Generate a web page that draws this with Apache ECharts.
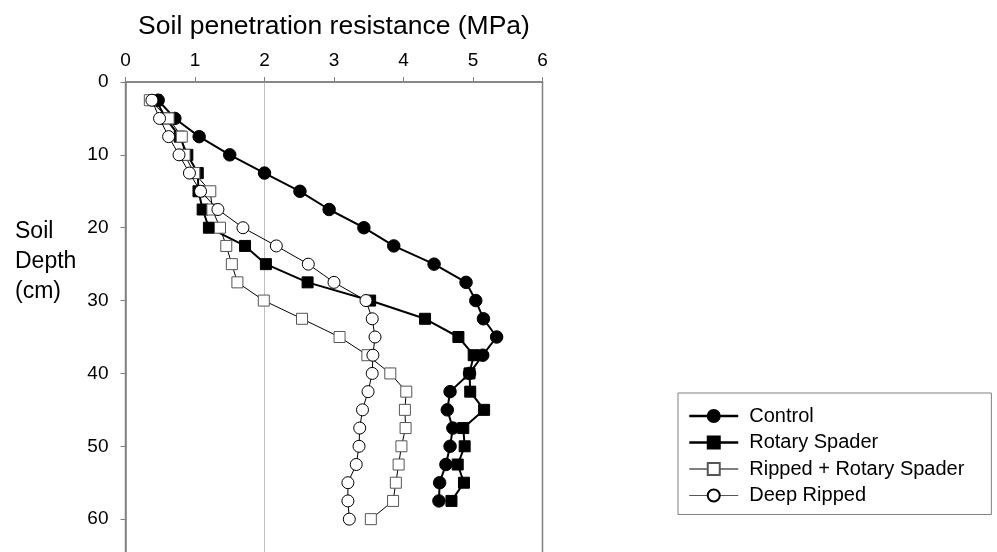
<!DOCTYPE html>
<html>
<head>
<meta charset="utf-8">
<script src="https://cdn.jsdelivr.net/npm/echarts@6/dist/echarts.min.js"></script>
<style>html,body{margin:0;padding:0;background:#fff;}#c{width:997px;height:552px;}</style>
</head>
<body>
<div id="c"></div>
<script>
// Depths (cm) at which resistance was measured
var depths = [2.5,5,7.5,10,12.5,15,17.5,20,22.5,25,27.5,30,32.5,35,37.5,40,42.5,45,47.5,50,52.5,55,57.5,60];
var seriesNames = ['Control','Rotary Spader','Ripped + Rotary Spader','Deep Ripped'];
// Soil penetration resistance (MPa)
var control = [0.47,0.71,1.06,1.50,2.00,2.51,2.93,3.43,3.86,4.44,4.90,5.04,5.15,5.34,5.14,4.95,4.67,4.63,4.71,4.67,4.61,4.52,4.51];
var rotarySpader = [0.44,0.58,0.78,0.89,1.04,1.05,1.11,1.20,1.72,2.02,2.62,3.52,4.31,4.79,5.01,4.95,4.96,5.16,4.86,4.88,4.78,4.87,4.69];
var rippedRotary = [0.35,0.62,0.81,0.85,0.99,1.22,1.25,1.36,1.45,1.53,1.61,1.99,2.54,3.08,3.48,3.81,4.04,4.02,4.03,3.97,3.93,3.89,3.85,3.53];
var deepRipped = [0.38,0.49,0.62,0.77,0.92,1.08,1.33,1.69,2.17,2.63,3.00,3.46,3.55,3.59,3.56,3.55,3.49,3.41,3.37,3.36,3.32,3.20,3.20,3.22];
var xTicks = [0,1,2,3,4,5,6];
var yTicks = [0,10,20,30,40,50,60,70];

function pairs(vals){ return vals.map(function(v,i){ return [v, depths[i]]; }); }

var FONT = '"Liberation Sans", Arial, sans-serif';
var chart = echarts.init(document.getElementById('c'), null, {renderer:'canvas'});
chart.setOption({
  animation:false,
  backgroundColor:'#fff',
  grid:{left:125.5, top:82, width:417, height:510, show:true, borderColor:'#808080', borderWidth:1.5,
        backgroundColor:'transparent', containLabel:false, outerBoundsMode:'none'},
  graphic:[
    {type:'text', x:15, y:217, style:{text:'Soil\nDepth\n(cm)', font:'23px '+FONT, fill:'#000', lineHeight:30, verticalAlign:'top'}},
    {type:'text', x:334, y:27, style:{text:'Soil penetration resistance (MPa)', font:'26.5px '+FONT, fill:'#000', align:'center', verticalAlign:'middle'}}
  ],
  xAxis:{
    type:'value', position:'top', min:xTicks[0], max:xTicks[xTicks.length-1], interval:1,
    axisLine:{show:true, lineStyle:{color:'#808080', width:1.5}},
    axisTick:{show:true, inside:false, length:5, lineStyle:{color:'#808080'}},
    axisLabel:{color:'#000', fontSize:19, fontFamily:FONT, margin:12},
    splitLine:{show:false}
  },
  yAxis:{
    type:'value', inverse:true, min:yTicks[0], max:yTicks[yTicks.length-1], interval:10,
    axisLine:{show:true, onZero:false, lineStyle:{color:'#808080', width:1.5}},
    axisTick:{show:true, inside:false, length:5, lineStyle:{color:'#808080'}},
    axisLabel:{color:'#000', fontSize:19, fontFamily:FONT, margin:17},
    splitLine:{show:false}
  },
  legend:{
    orient:'vertical', left:678, top:393,
    padding:[13,27,9,10], itemGap:6.5, itemWidth:49, itemHeight:15,
    borderColor:'#808080', borderWidth:1, backgroundColor:'#fff',
    textStyle:{color:'#000', fontSize:20, fontFamily:FONT, padding:[0,0,0,6]},
    data:[
      {name:seriesNames[0], lineStyle:{width:2.5, color:'#000'}},
      {name:seriesNames[1], lineStyle:{width:2.5, color:'#000'}},
      {name:seriesNames[2], lineStyle:{width:1, color:'#000'}},
      {name:seriesNames[3], lineStyle:{width:1, color:'#555'}}
    ]
  },
  series:[
    {name:seriesNames[0], type:'line', data:pairs(control), symbol:'circle', symbolSize:12.5,
     lineStyle:{color:'#000', width:2}, itemStyle:{color:'#000', borderColor:'#000', borderWidth:1},
     markLine:{silent:true, symbol:'none', label:{show:false}, lineStyle:{color:'#c0c0c0', width:1, type:'solid'}, data:[{xAxis:2}], z:0}, z:2},
    {name:seriesNames[1], type:'line', data:pairs(rotarySpader), symbol:'rect', symbolSize:11,
     lineStyle:{color:'#000', width:2}, itemStyle:{color:'#000', borderColor:'#000', borderWidth:1}, z:3},
    {name:seriesNames[2], type:'line', data:pairs(rippedRotary), symbol:'rect', symbolSize:11,
     lineStyle:{color:'#000', width:1}, itemStyle:{color:'#fff', borderColor:'#555', borderWidth:1}, z:4},
    {name:seriesNames[3], type:'line', data:pairs(deepRipped), symbol:'circle', symbolSize:12,
     lineStyle:{color:'#000', width:1}, itemStyle:{color:'#fff', borderColor:'#000', borderWidth:1}, z:5}
  ]
});
</script>
</body>
</html>
